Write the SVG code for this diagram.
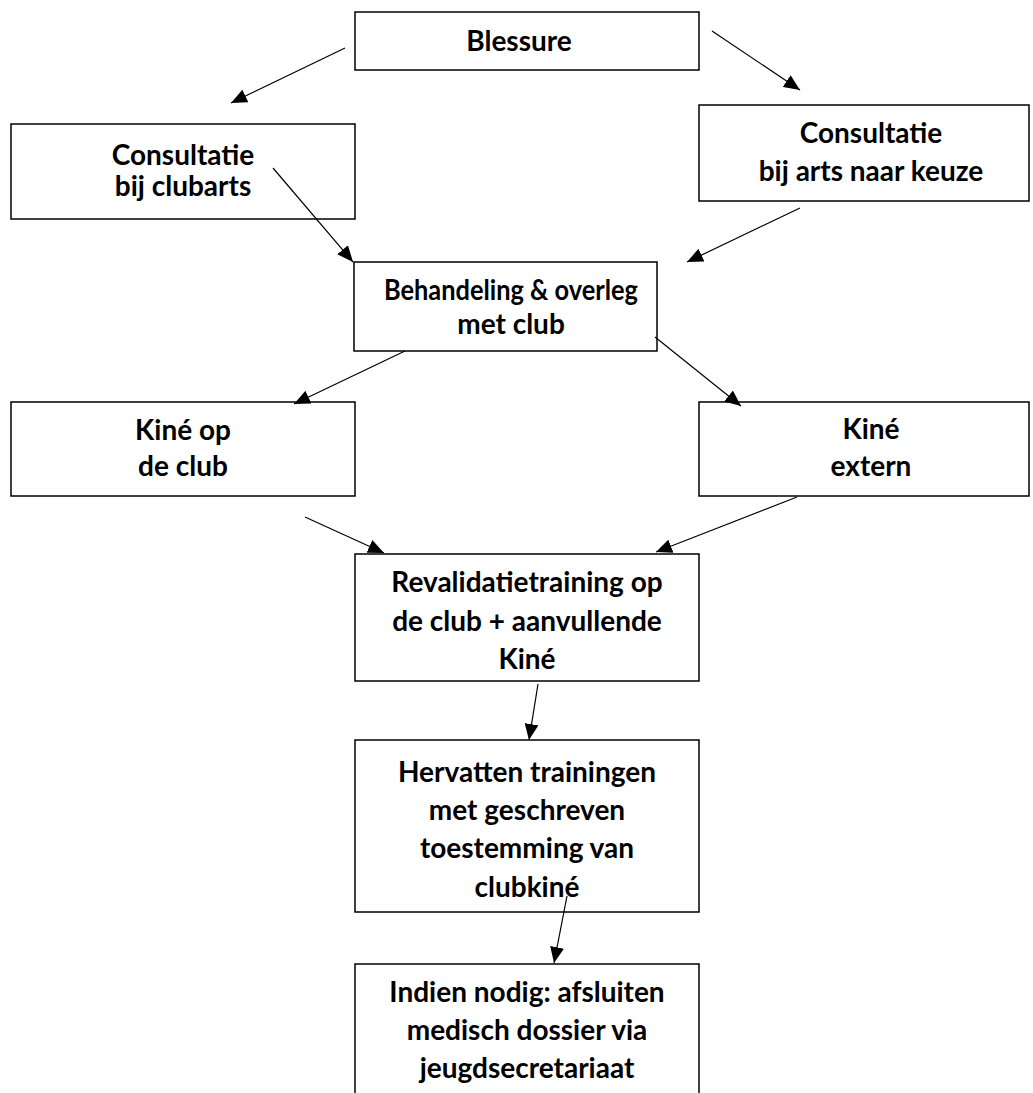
<svg xmlns="http://www.w3.org/2000/svg" width="1033" height="1093" viewBox="0 0 1033 1093">
<style>
.box{fill:#fff;stroke:#000;stroke-width:1.5}
.t{font-family:Lato,"Liberation Sans",sans-serif;font-weight:700;font-size:28px;fill:#000;text-anchor:middle}
.c{stroke:#000;stroke-width:1.2;fill:none;marker-end:url(#ah)}
</style>
<defs>
<marker id="ah" markerUnits="userSpaceOnUse" markerWidth="17" markerHeight="14" refX="16" refY="7" orient="auto">
<path d="M0,0 L16,7 L0,14 z" fill="#000"/>
</marker>
</defs>
<rect width="1033" height="1093" fill="#fff"/>
<g id="blessure"><rect class="box" x="355" y="12" width="344" height="58"/><text class="t" x="519" y="51">Blessure</text></g>
<g id="consult-club"><rect class="box" x="11" y="124" width="344" height="95"/><text class="t" x="183" y="165">Consultatie</text><text class="t" x="183" y="196">bij clubarts</text></g>
<g id="consult-arts"><rect class="box" x="699" y="105" width="330" height="96"/><text class="t" x="871" y="143">Consultatie</text><text class="t" x="871" y="181">bij arts naar keuze</text></g>
<g id="behandeling"><rect class="box" x="354" y="262" width="303" height="89"/><text class="t" x="511" y="300" textLength="254" lengthAdjust="spacingAndGlyphs">Behandeling &amp; overleg</text><text class="t" x="511" y="334">met club</text></g>
<g id="kine-club"><rect class="box" x="11" y="402" width="344" height="94"/><text class="t" x="183" y="440">Kiné op</text><text class="t" x="183" y="476">de club</text></g>
<g id="kine-extern"><rect class="box" x="699" y="402" width="330" height="94"/><text class="t" x="871" y="439">Kiné</text><text class="t" x="871" y="476">extern</text></g>
<g id="revalidatie"><rect class="box" x="355" y="554" width="344" height="127"/><text class="t" x="527" y="592">Revalidatietraining op</text><text class="t" x="527" y="631">de club + aanvullende</text><text class="t" x="527" y="669">Kiné</text></g>
<g id="hervatten"><rect class="box" x="355" y="740" width="344" height="172"/><text class="t" x="527" y="782">Hervatten trainingen</text><text class="t" x="527" y="820">met geschreven</text><text class="t" x="527" y="858">toestemming van</text><text class="t" x="527" y="897">clubkiné</text></g>
<g id="indien"><rect class="box" x="355" y="964" width="344" height="140"/><text class="t" x="527" y="1002">Indien nodig: afsluiten</text><text class="t" x="527" y="1040">medisch dossier via</text><text class="t" x="527" y="1078">jeugdsecretariaat</text></g>
<g id="connectors">
<line class="c" x1="345" y1="48" x2="231" y2="103"/>
<line class="c" x1="712" y1="31" x2="800" y2="90"/>
<line class="c" x1="273" y1="168" x2="353" y2="262"/>
<line class="c" x1="800" y1="208" x2="687" y2="262"/>
<line class="c" x1="405" y1="351" x2="294" y2="404"/>
<line class="c" x1="655" y1="337" x2="741" y2="406"/>
<line class="c" x1="305" y1="517" x2="384" y2="553"/>
<line class="c" x1="797" y1="497" x2="656" y2="552"/>
<line class="c" x1="538" y1="684" x2="529" y2="740"/>
<line class="c" x1="567" y1="896" x2="554" y2="963"/>
</g>
</svg>
